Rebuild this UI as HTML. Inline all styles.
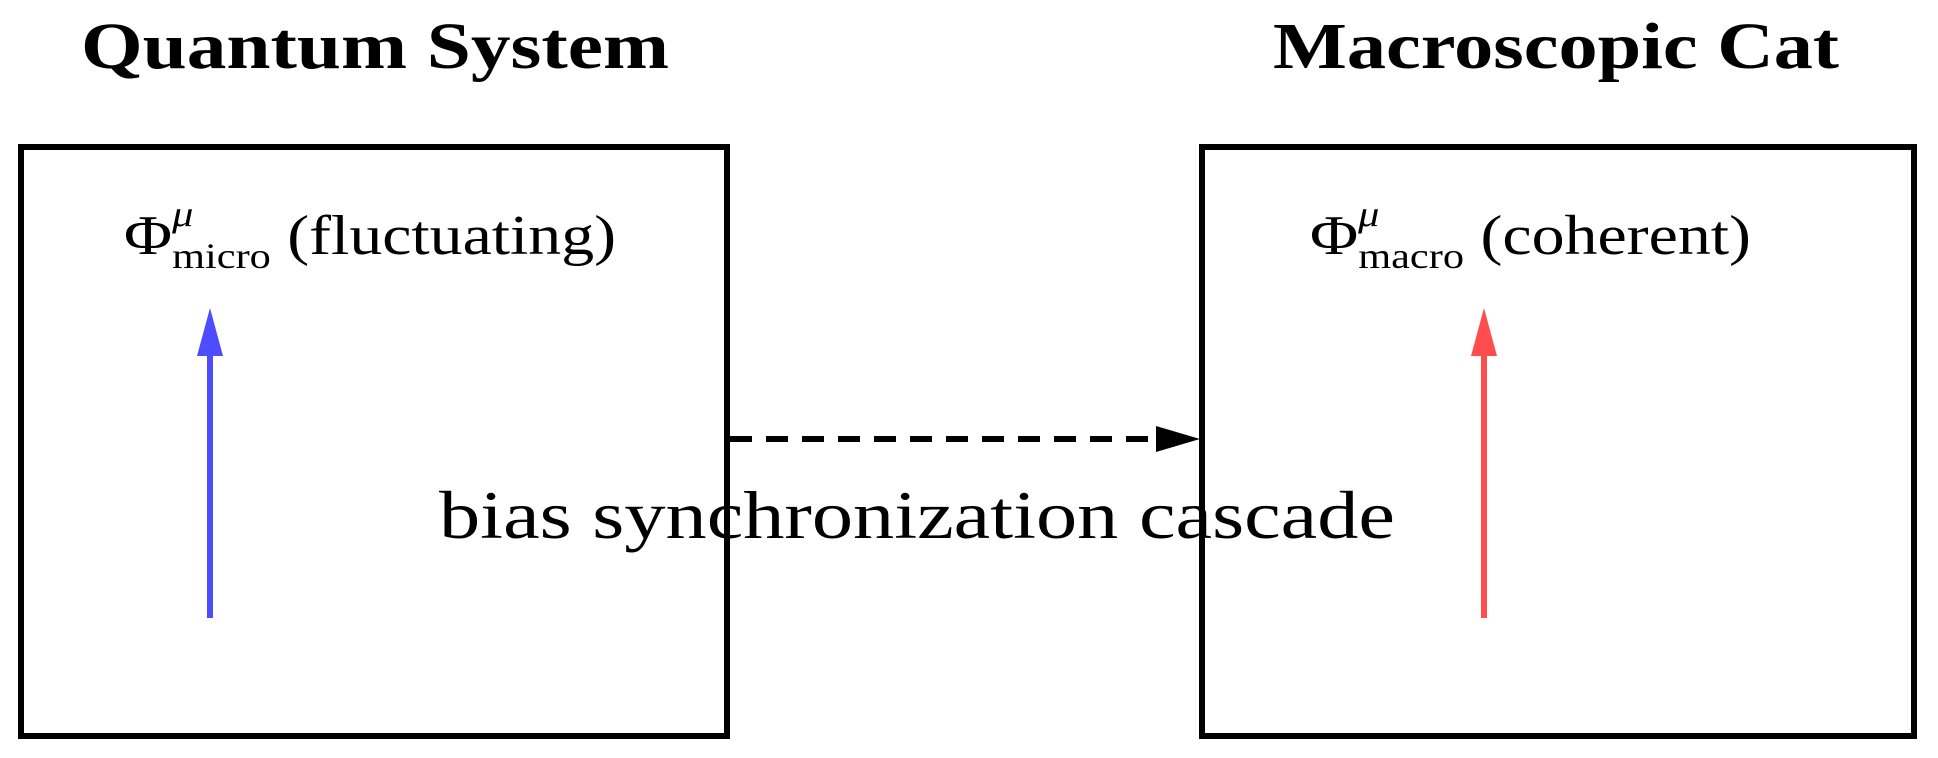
<!DOCTYPE html>
<html><head><style>body{margin:0;background:#fff}svg{display:block}</style></head>
<body>
<svg width="1938" height="758" viewBox="0 0 1938 758" xmlns="http://www.w3.org/2000/svg" font-family="Liberation Serif, serif">
<rect x="21" y="147" width="706" height="589" fill="none" stroke="#000" stroke-width="6"/>
<rect x="1202" y="147" width="712" height="589" fill="none" stroke="#000" stroke-width="6"/>
<text x="375" y="68" font-size="66" font-weight="bold" text-anchor="middle" textLength="588" lengthAdjust="spacingAndGlyphs">Quantum System</text>
<text x="1556" y="68" font-size="66" font-weight="bold" text-anchor="middle" textLength="566" lengthAdjust="spacingAndGlyphs">Macroscopic Cat</text>
<text x="124" y="254" font-size="56" textLength="492" lengthAdjust="spacingAndGlyphs">Φ<tspan font-style="italic" font-size="36" dy="-28">μ</tspan><tspan font-size="36" dx="-18" dy="42">micro</tspan><tspan dy="-14" dx="14">(fluctuating)</tspan></text>
<text x="1310" y="254" font-size="56" textLength="441" lengthAdjust="spacingAndGlyphs">Φ<tspan font-style="italic" font-size="36" dy="-28">μ</tspan><tspan font-size="36" dx="-18" dy="42">macro</tspan><tspan dy="-14" dx="14">(coherent)</tspan></text>
<line x1="210" y1="618" x2="210" y2="350" stroke="#4d4dff" stroke-width="6"/>
<polygon points="210,308 197,356 223,356" fill="#4d4dff"/>
<line x1="1484" y1="618" x2="1484" y2="350" stroke="#ff4d4d" stroke-width="6"/>
<polygon points="1484,308 1471,356 1497,356" fill="#ff4d4d"/>
<line x1="730" y1="439" x2="1160" y2="439" stroke="#000" stroke-width="6" stroke-dasharray="22,14"/>
<polygon points="1200,439 1156,426 1156,452" fill="#000"/>
<text x="439" y="538" font-size="68" textLength="956" lengthAdjust="spacingAndGlyphs">bias synchronization cascade</text>
</svg>
</body></html>
